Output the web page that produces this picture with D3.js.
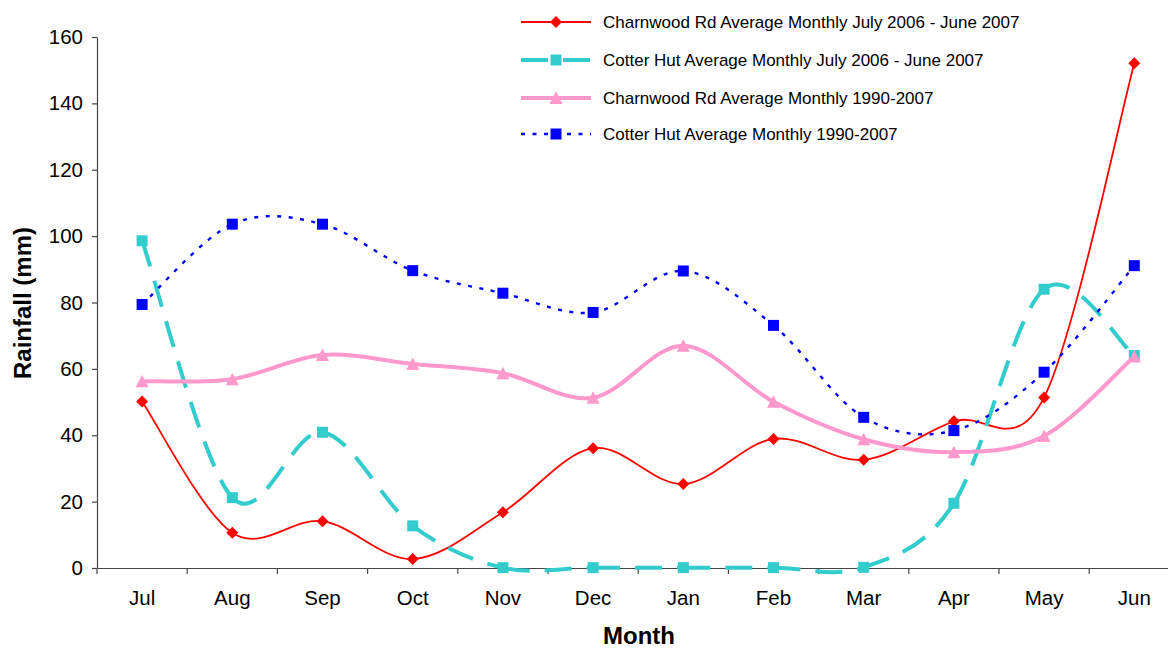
<!DOCTYPE html>
<html>
<head>
<meta charset="utf-8">
<script src="https://cdn.jsdelivr.net/npm/d3@7"></script>
<style>
  html, body { margin: 0; padding: 0; background: #fff; }
  svg { display: block; }
  text { font-family: "Liberation Sans", Arial, sans-serif; fill: #000; }
</style>
</head>
<body>
<svg id="chart" width="1168" height="648"></svg>
<script>
const months = ["Jul","Aug","Sep","Oct","Nov","Dec","Jan","Feb","Mar","Apr","May","Jun"];
const yTicks = [0, 20, 40, 60, 80, 100, 120, 140, 160];

const charnwood0607 = [50.2, 10.6, 14.1, 2.7, 16.8, 36.1, 25.3, 38.9, 32.6, 44.2, 51.4, 152.1];
const cotter0607    = [98.6, 21.2, 40.9, 12.7, 0.1, 0.1, 0.1, 0.1, 0.2, 19.5, 84.0, 64.0];
const charnwoodAvg  = [56.3, 56.9, 64.2, 61.5, 58.7, 51.3, 67.0, 50.1, 38.8, 34.9, 39.8, 63.7];
const cotterAvg     = [79.4, 103.6, 103.6, 89.6, 82.8, 77.0, 89.5, 73.1, 45.4, 41.4, 59.0, 91.1];

const seriesNames = [
  "Charnwood Rd Average Monthly July 2006 - June 2007",
  "Cotter Hut Average Monthly July 2006 - June 2007",
  "Charnwood Rd Average Monthly 1990-2007",
  "Cotter Hut Average Monthly 1990-2007"
];

const series = [
  {name: seriesNames[0], values: charnwood0607, color: "#FF0000", width: 1.8, dash: null, marker: "diamond"},
  {name: seriesNames[1], values: cotter0607, color: "#33CCCC", width: 4, dash: "27,15", marker: "square"},
  {name: seriesNames[2], values: charnwoodAvg, color: "#FF99CC", width: 4, dash: null, marker: "triangle"},
  {name: seriesNames[3], values: cotterAvg, color: "#0000FF", width: 2.4, dash: "4,7.5", marker: "square"}
];

const svg = d3.select("#chart");
svg.append("rect").attr("width", 1168).attr("height", 648).attr("fill", "#fff");

const x = d3.scaleBand().domain(months).range([97, 97 + 12 * 90.2]).padding(0);
const y = d3.scaleLinear().domain([0, 160]).range([568, 37]);
const cx = m => x(m) + x.bandwidth() / 2;

// Y axis
const yAxis = svg.append("g").attr("transform", "translate(97,0)")
  .call(d3.axisLeft(y).tickValues(yTicks).tickSize(5).tickPadding(9).tickSizeOuter(0));
yAxis.select(".domain").attr("stroke", "#444").attr("stroke-width", 1.2);
yAxis.selectAll(".tick line").attr("stroke", "#444").attr("stroke-width", 1.2);
yAxis.selectAll(".tick text").attr("font-size", 20.5).attr("font-family", "Liberation Sans, Arial, sans-serif").attr("fill", "#000");

// X axis
const xAxis = svg.append("g").attr("transform", "translate(0,568)")
  .call(d3.axisBottom(x).tickSize(0).tickPadding(22).tickSizeOuter(0));
xAxis.select(".domain").attr("stroke", "#444").attr("stroke-width", 1.2);
xAxis.selectAll(".tick text").attr("font-size", 20.5).attr("font-family", "Liberation Sans, Arial, sans-serif").attr("fill", "#000");
svg.append("g").selectAll("line").data(months).join("line")
  .attr("x1", d => x(d)).attr("x2", d => x(d))
  .attr("y1", 568).attr("y2", 574)
  .attr("stroke", "#444").attr("stroke-width", 1.2);

// Axis titles
svg.append("text").attr("transform", "translate(31,303) rotate(-90)")
  .attr("text-anchor", "middle").attr("font-size", 24).attr("font-weight", "bold")
  .text("Rainfall (mm)");
svg.append("text").attr("x", 639).attr("y", 644)
  .attr("text-anchor", "middle").attr("font-size", 24).attr("font-weight", "bold")
  .text("Month");

// Smoothed segments (each segment its own path, so dash patterns restart at every point)
function segments(values) {
  const pts = values.map((v, i) => [cx(months[i]), y(v)]);
  const n = pts.length;
  const out = [];
  for (let i = 0; i < n - 1; i++) {
    const p0 = pts[Math.max(i - 1, 0)], p1 = pts[i], p2 = pts[i + 1], p3 = pts[Math.min(i + 2, n - 1)];
    const p = d3.path();
    p.moveTo(p1[0], p1[1]);
    p.bezierCurveTo(
      p1[0] + (p2[0] - p0[0]) / 6, p1[1] + (p2[1] - p0[1]) / 6,
      p2[0] - (p3[0] - p1[0]) / 6, p2[1] - (p3[1] - p1[1]) / 6,
      p2[0], p2[1]);
    out.push(p.toString());
  }
  return out;
}

function markerPath(type, size) {
  const h = size / 2;
  if (type === "diamond") return `M0,${-h}L${h},0L0,${h}L${-h},0Z`;
  if (type === "square") return `M${-h},${-h}H${h}V${h}H${-h}Z`;
  if (type === "triangle") return `M0,${-h - 0.5}L${h + 0.5},${h}L${-h - 0.5},${h}Z`;
}
const markerSize = {diamond: 12, square: 11, triangle: 12};

const plot = svg.append("g");
series.forEach(s => {
  const g = plot.append("g");
  g.selectAll("path.seg").data(segments(s.values)).join("path")
    .attr("class", "seg")
    .attr("d", d => d)
    .attr("fill", "none")
    .attr("stroke", s.color)
    .attr("stroke-width", s.width)
    .attr("stroke-dasharray", s.dash)
    .attr("stroke-linejoin", "round");
  g.selectAll("path.mk").data(s.values).join("path")
    .attr("class", "mk")
    .attr("transform", (d, i) => `translate(${cx(months[i])},${y(d)})`)
    .attr("d", markerPath(s.marker, markerSize[s.marker]))
    .attr("fill", s.color);
});

// Legend
const legendY = [22, 60, 98, 134];
const legend = svg.append("g");
series.forEach((s, i) => {
  const g = legend.append("g").attr("transform", `translate(0,${legendY[i]})`);
  g.append("line").attr("x1", 521).attr("x2", 591).attr("y1", 0).attr("y2", 0)
    .attr("stroke", s.color).attr("stroke-width", s.width).attr("stroke-dasharray", s.dash);
  g.append("path").attr("transform", "translate(556,0)")
    .attr("d", markerPath(s.marker, markerSize[s.marker])).attr("fill", s.color);
  g.append("text").attr("x", 603).attr("y", 0).attr("dy", "0.35em")
    .attr("font-size", 17).text(s.name);
});
</script>
</body>
</html>
